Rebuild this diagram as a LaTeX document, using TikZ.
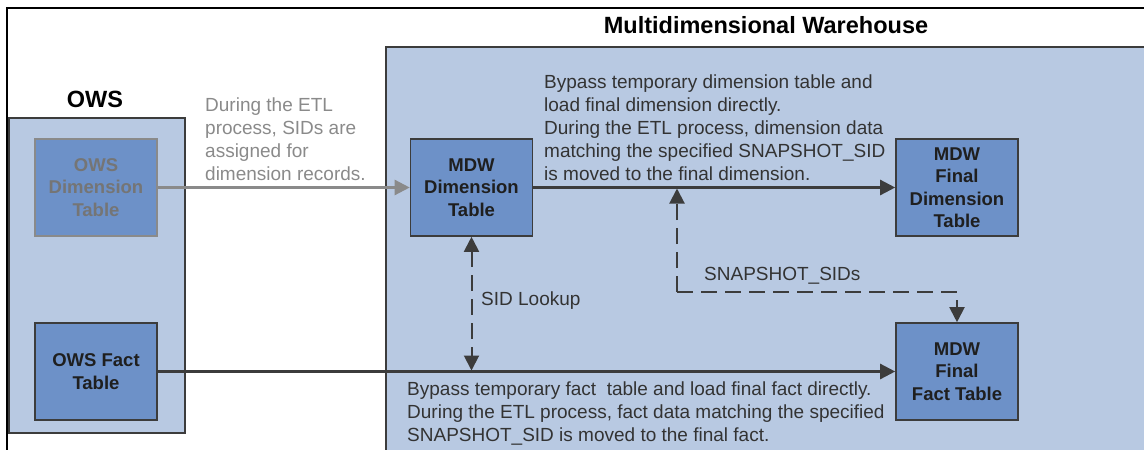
\documentclass[tikz,border=0pt]{standalone}
\usepackage{fontspec}
\setmainfont{Liberation Sans}
\usepackage{tikz}
\usetikzlibrary{arrows.meta}

\definecolor{wareblue}{RGB}{184,201,226}
\definecolor{tableblue}{RGB}{109,145,200}
\definecolor{linegray}{RGB}{60,60,60}
\definecolor{fadegray}{RGB}{138,138,138}

\begin{document}
\begin{tikzpicture}[x=1pt,y=-1pt]
    \useasboundingbox (0,0) rectangle (1144,450);

    \tikzstyle{area} = [draw=linegray,fill=wareblue,line width=1.6pt]
    \tikzstyle{table} = [draw=linegray,fill=tableblue,line width=1.6pt,minimum width=122pt,minimum height=97pt,inner sep=2pt,align=center,text=black!88,font=\bfseries\fontsize{18.5}{22.5}\selectfont]
    \tikzstyle{note} = [anchor=north west,inner sep=0pt,align=left,text=black!80,font=\fontsize{19}{23}\selectfont]
    \tikzstyle{flow} = [line width=2.4pt,-{Triangle[length=15pt,width=15pt]}]
    \tikzstyle{dashflow} = [line width=2pt,dash pattern=on 16pt off 8pt,-{Triangle[length=15pt,width=15pt]}]

    % frame and areas
    \draw[black,line width=1.4pt] (7,450) -- (7,8) -- (1144,8);
    \draw[area] (9,118) rectangle (185,433);
    \fill[wareblue] (386,47) rectangle (1144,450);
    \draw[linegray,line width=1.6pt] (386,450) -- (386,47) -- (1144,47);

    \node[font=\bfseries\fontsize{23.5}{27}\selectfont,anchor=base] (owsname) at (95,107) {OWS};
    \node[font=\bfseries\fontsize{23.5}{27}\selectfont,anchor=base] (mdwname) at (766,33) {Multidimensional Warehouse};

    % tables
    \node[table,draw=fadegray,text=fadegray!85!black] (owsdim) at (96,187.5) {OWS\\Dimension\\Table};
    \node[table] (owsfact) at (96,371.5) {OWS Fact\\Table};
    \node[table] (mdwdim) at (471.5,187.5) {MDW\\Dimension\\Table};
    \node[table] (findim) at (957,187.5) {MDW\\Final\\Dimension\\Table};
    \node[table] (finfact) at (957,371.5) {MDW\\Final\\Fact Table};

    \coordinate (lookup) at (471.5,370.5);
    \coordinate (tap) at (677,188.5);
    \coordinate (snap) at (677,292);

    % connectors
    \draw[flow,fadegray] (owsdim) -- (mdwdim);
    \draw[flow,linegray] (mdwdim) -- (findim);
    \draw[flow,linegray] (owsfact) -- (finfact);
    \draw[dashflow,linegray,{Triangle[length=15pt,width=15pt]}-{Triangle[length=15pt,width=15pt]}] (mdwdim.south) -- (lookup);
    \draw[dashflow,linegray] (snap) -- (tap);
    \draw[dashflow,linegray] (snap) -| (finfact.north);

    % labels
    \node[note,text=fadegray] (etlnote) at (205,98) {During the ETL\\process, SIDs are\\assigned for\\dimension records.};
    \node[note] (dimnote) at (544,75) {Bypass temporary dimension table and\\load final dimension directly.\\During the ETL process, dimension data\\matching the specified SNAPSHOT\_SID\\is moved to the final dimension.};
    \node[note] (factnote) at (407,382) {Bypass temporary fact\ \ table and load final fact directly.\\During the ETL process, fact data matching the specified\\SNAPSHOT\_SID is moved to the final fact.};
    \node[note] (sidnote) at (481,292) {SID Lookup};
    \node[note] (snapnote) at (704,267) {SNAPSHOT\_SIDs};
\end{tikzpicture}
\end{document}
